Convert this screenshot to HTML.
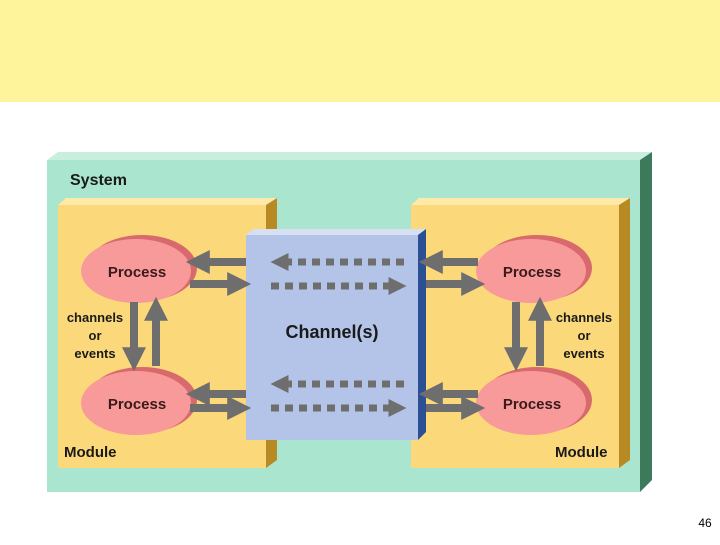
<!DOCTYPE html>
<html><head><style>body{margin:0;width:720px;height:540px;overflow:hidden;background:#fff}</style></head><body>
<svg width="720" height="540" xmlns="http://www.w3.org/2000/svg" font-family="Liberation Sans, sans-serif" font-weight="bold">
<defs>
<marker id="ah" viewBox="0 0 10 10" refX="2" refY="5" markerWidth="3" markerHeight="3" orient="auto"><path d="M0,0L10,5L0,10z" fill="#6e6e6e"/></marker>
<marker id="ah2" viewBox="0 0 10 10" refX="2" refY="5" markerWidth="2.6" markerHeight="2.6" orient="auto"><path d="M0,0L10,5L0,10z" fill="#6e6e6e"/></marker>
</defs>
<rect x="0" y="0" width="720" height="102" fill="#fef49c"/>
<!-- system -->
<polygon points="47,160 58,152 652,152 640,160" fill="#c8eedd"/>
<polygon points="640,160 652,152 652,480 640,492" fill="#3d7a5b"/>
<rect x="47" y="160" width="593" height="332" fill="#aae5cf"/>
<text x="70" y="185" font-size="16" fill="#1a1a1a">System</text>
<!-- modules -->
<g id="m">
<polygon points="58,205 66,198 277,198 266,205" fill="#fde9a8"/>
<polygon points="266,205 277,198 277,460 266,468" fill="#b88a24"/>
<rect x="58" y="205" width="208" height="263" fill="#fbd97a"/>
</g>
<use href="#m" x="353"/>
<text x="64" y="457" font-size="15" fill="#1a1a1a">Module</text>
<text x="555" y="457" font-size="15" fill="#1a1a1a">Module</text>
<!-- channel -->
<polygon points="246,235 253,229 426,229 418,235" fill="#d7e0f3"/>
<polygon points="418,235 426,229 426,432 418,440" fill="#2c4f94"/>
<rect x="246" y="235" width="172" height="205" fill="#b4c4e8"/>
<text x="332" y="338" font-size="18" fill="#1a1a1a" text-anchor="middle">Channel(s)</text>
<!-- processes -->
<g id="p">
<ellipse cx="142" cy="268" rx="55" ry="33" fill="#d86a6e"/>
<ellipse cx="136" cy="271" rx="55" ry="32" fill="#f89a9a"/>
</g>
<use href="#p" y="132"/>
<use href="#p" x="395"/>
<use href="#p" x="395" y="132"/>
<g font-size="15" fill="#3a1a1a" text-anchor="middle">
<text x="137" y="277">Process</text><text x="137" y="409">Process</text>
<text x="532" y="277">Process</text><text x="532" y="409">Process</text>
</g>
<g font-size="13" fill="#1a1a1a" text-anchor="middle">
<text x="95" y="322">channels</text><text x="95" y="340">or</text><text x="95" y="358">events</text>
<text x="584" y="322">channels</text><text x="584" y="340">or</text><text x="584" y="358">events</text>
</g>
<!-- solid arrows -->
<g stroke="#6e6e6e" stroke-width="8" marker-end="url(#ah)">
<line x1="246" y1="262" x2="205" y2="262"/><line x1="190" y1="284" x2="232" y2="284"/>
<line x1="246" y1="394" x2="205" y2="394"/><line x1="190" y1="408" x2="232" y2="408"/>
<line x1="478" y1="262" x2="438" y2="262"/><line x1="426" y1="284" x2="466" y2="284"/>
<line x1="478" y1="394" x2="438" y2="394"/><line x1="426" y1="408" x2="466" y2="408"/>
<line x1="134" y1="302" x2="134" y2="352"/><line x1="156" y1="366" x2="156" y2="316"/>
<line x1="516" y1="302" x2="516" y2="352"/><line x1="540" y1="366" x2="540" y2="316"/>
</g>
<!-- dashed arrows -->
<g stroke="#6e6e6e" stroke-width="7" stroke-dasharray="8,6" marker-end="url(#ah2)">
<line x1="404" y1="262" x2="285" y2="262"/><line x1="271" y1="286" x2="392" y2="286"/>
<line x1="404" y1="384" x2="285" y2="384"/><line x1="271" y1="408" x2="392" y2="408"/>
</g>
<text x="705" y="527" font-size="12" font-weight="normal" fill="#000" text-anchor="middle">46</text>
</svg>
</body></html>
